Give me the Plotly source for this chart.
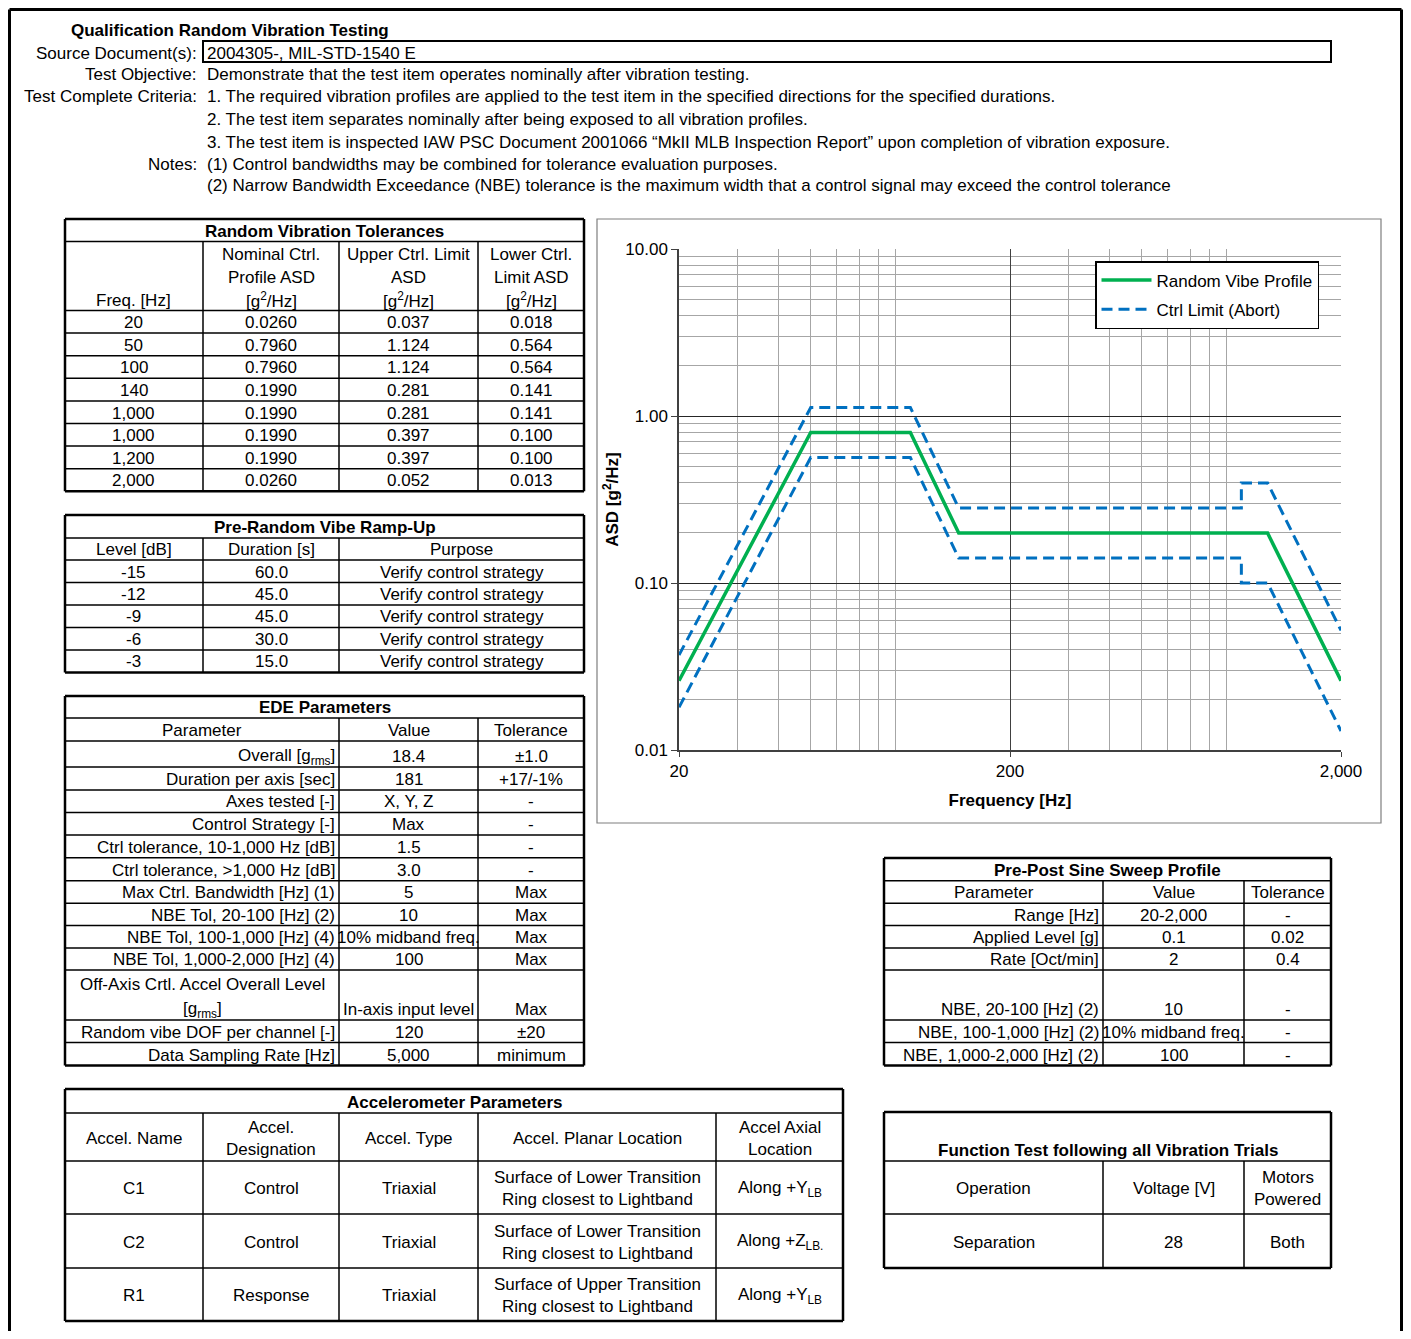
import numpy as np
import plotly.graph_objects as go

OFF = 8  # the page body adds an 8px margin around the figure
W, H = 1411 - 2 * OFF, 1339 - 2 * OFF
FONT = 'Liberation Sans, Arial, sans-serif'
FS = 17.0

# ---- data ----
rv_freq = [20, 50, 100, 140, 1000, 1000, 1200, 2000]
rv_nominal = [0.0260, 0.7960, 0.7960, 0.1990, 0.1990, 0.1990, 0.1990, 0.0260]
rv_upper = [0.037, 1.124, 1.124, 0.281, 0.281, 0.397, 0.397, 0.052]
rv_lower = [0.018, 0.564, 0.564, 0.141, 0.141, 0.100, 0.100, 0.013]

ramp_level = [-15, -12, -9, -6, -3]
ramp_duration = [60.0, 45.0, 45.0, 30.0, 15.0]
ramp_purpose = ['Verify control strategy'] * 5

ede_param = ['Overall [g<sub>rms</sub>]', 'Duration per axis [sec]', 'Axes tested [-]',
             'Control Strategy [-]', 'Ctrl tolerance, 10-1,000 Hz [dB]',
             'Ctrl tolerance, >1,000 Hz [dB]', 'Max Ctrl. Bandwidth [Hz] (1)',
             'NBE Tol, 20-100 [Hz] (2)', 'NBE Tol, 100-1,000 [Hz] (4)',
             'NBE Tol, 1,000-2,000 [Hz] (4)',
             'Off-Axis Crtl. Accel Overall Level<br>[g<sub>rms</sub>]',
             'Random vibe DOF per channel [-]', 'Data Sampling Rate [Hz]']
ede_value = ['18.4', '181', 'X, Y, Z', 'Max', '1.5', '3.0', '5', '10',
             '10% midband freq.', '100', 'In-axis input level', '120', '5,000']
ede_tol = ['±1.0', '+17/-1%', '-', '-', '-', '-', 'Max', 'Max', 'Max', 'Max',
           'Max', '±20', 'minimum']

sine_param = ['Range [Hz]', 'Applied Level [g]', 'Rate [Oct/min]', 'NBE, 20-100 [Hz] (2)',
              'NBE, 100-1,000 [Hz] (2)', 'NBE, 1,000-2,000 [Hz] (2)']
sine_value = ['20-2,000', '0.1', '2', '10', '10% midband freq.', '100']
sine_tol = ['-', '0.02', '0.4', '-', '-', '-']

accel_name = ['C1', 'C2', 'R1']
accel_desig = ['Control', 'Control', 'Response']
accel_type = ['Triaxial', 'Triaxial', 'Triaxial']
accel_planar = ['Surface of Lower Transition<br>Ring closest to Lightband',
                'Surface of Lower Transition<br>Ring closest to Lightband',
                'Surface of Upper Transition<br>Ring closest to Lightband']
accel_axial = ['Along +Y<sub>LB</sub>', 'Along +Z<sub>LB.</sub>', 'Along +Y<sub>LB</sub>']

func_op = ['Separation']
func_voltage = [28]
func_motors = ['Both']

hdr_labels = ['Source Document(s):', 'Test Objective:', 'Test Complete Criteria:', '', '', 'Notes:', '']
hdr_texts = ['2004305-, MIL-STD-1540 E',
             'Demonstrate that the test item operates nominally after vibration testing.',
             '1. The required vibration profiles are applied to the test item in the specified directions for the specified durations.',
             '2. The test item separates nominally after being exposed to all vibration profiles.',
             '3. The test item is inspected IAW PSC Document 2001066 \u201cMkII MLB Inspection Report\u201d upon completion of vibration exposure.',
             '(1) Control bandwidths may be combined for tolerance evaluation purposes.',
             '(2) Narrow Bandwidth Exceedance (NBE) tolerance is the maximum width that a control signal may exceed the control tolerance']

shapes = []
anns = []


def X(px):
    return (px - OFF) / W


def Y(py):
    return 1 - (py - OFF) / H


def line(x0, y0, x1, y1, w=1.5, color='black'):
    shapes.append(dict(type='line', xref='paper', yref='paper', x0=X(x0), y0=Y(y0),
                       x1=X(x1), y1=Y(y1), line=dict(color=color, width=w)))


def txt(x, y, s, align='center', bold=False):
    if bold:
        s = '<b>' + s + '</b>'
    anns.append(dict(x=X(x), y=Y(y + 1), xref='paper', yref='paper', text=s, showarrow=False,
                     xanchor=align, yanchor='middle', borderpad=0,
                     font=dict(family=FONT, size=FS, color='black')))


def cell(x0, x1, y0, y1, s, align='center', valign='bottom', bold=False, gap=23):
    parts = str(s).split('<br>')
    n = len(parts)
    if valign == 'bottom':
        ys = [y1 - 11.5 - gap * (n - 1 - i) for i in range(n)]
    else:
        mid = (y0 + y1) / 2
        ys = [mid + gap * (i - (n - 1) / 2) for i in range(n)]
    if align == 'left':
        x = x0 + 4
    elif align == 'right':
        x = x1 - 3
    else:
        x = (x0 + x1) / 2
    for p, yy in zip(parts, ys):
        txt(x, yy, p, align, bold)


def table(cols, rows, title_rows=1):
    # outer box
    line(cols[0], rows[0], cols[-1], rows[0], 2.5)
    line(cols[0], rows[-1], cols[-1], rows[-1], 2.5)
    line(cols[0], rows[0], cols[0], rows[-1], 2.5)
    line(cols[-1], rows[0], cols[-1], rows[-1], 2.5)
    for r in rows[1:-1]:
        line(cols[0], r, cols[-1], r, 1.5)
    for c in cols[1:-1]:
        line(c, rows[title_rows], c, rows[-1], 1.5)


# ---- page frame and header ----
line(9.5, 9.5, 1401.5, 9.5, 3)
line(9.5, 9.5, 9.5, 1345, 3)
line(1401.5, 9.5, 1401.5, 1345, 3)

txt(70, 29, 'Qualification Random Vibration Testing', 'left', True)
shapes.append(dict(type='rect', xref='paper', yref='paper', x0=X(203), y0=Y(62), x1=X(1331), y1=Y(41),
                   line=dict(color='black', width=2)))
for i, (lab, t) in enumerate(zip(hdr_labels, hdr_texts)):
    yy = [52, 74, 96, 118, 141, 163, 185][i]
    if lab:
        txt(198, yy, lab, 'right')
    txt(206, yy, t, 'left')

# ---- Random Vibration Tolerances ----
c1 = [65, 203, 339, 478, 584]
r1 = [219, 241.5, 310.5] + [310.5 + 22.6 * (i + 1) for i in range(len(rv_freq))]
table(c1, r1)
cell(c1[0], c1[-1], r1[0], r1[1], 'Random Vibration Tolerances', bold=True)
heads1 = ['Freq. [Hz]', 'Nominal Ctrl.<br>Profile ASD<br>[g<sup>2</sup>/Hz]',
          'Upper Ctrl. Limit<br>ASD<br>[g<sup>2</sup>/Hz]', 'Lower Ctrl.<br>Limit ASD<br>[g<sup>2</sup>/Hz]']
for j, hd in enumerate(heads1):
    cell(c1[j], c1[j + 1], r1[1], r1[2], hd)
for i in range(len(rv_freq)):
    vals = [f'{rv_freq[i]:,}', f'{rv_nominal[i]:.4f}', f'{rv_upper[i]:.3f}', f'{rv_lower[i]:.3f}']
    for j, v in enumerate(vals):
        cell(c1[j], c1[j + 1], r1[i + 2], r1[i + 3], v)

# ---- Pre-Random Vibe Ramp-Up ----
c2 = [65, 203, 339, 584]
r2 = [515, 538, 560] + [560 + 22.5 * (i + 1) for i in range(len(ramp_level))]
table(c2, r2)
cell(c2[0], c2[-1], r2[0], r2[1], 'Pre-Random Vibe Ramp-Up', bold=True)
for j, hd in enumerate(['Level [dB]', 'Duration [s]', 'Purpose']):
    cell(c2[j], c2[j + 1], r2[1], r2[2], hd)
for i in range(len(ramp_level)):
    vals = [str(ramp_level[i]), f'{ramp_duration[i]:.1f}', ramp_purpose[i]]
    for j, v in enumerate(vals):
        cell(c2[j], c2[j + 1], r2[i + 2], r2[i + 3], v)

# ---- EDE Parameters ----
c3 = [65, 339, 478, 584]
r3 = [696, 718, 741, 767, 790, 812.5, 835, 857.7, 880.7, 903.3, 925.5, 948, 970, 1020, 1042.5, 1065.5]
table(c3, r3)
cell(c3[0], c3[-1], r3[0], r3[1], 'EDE Parameters', bold=True)
for j, hd in enumerate(['Parameter', 'Value', 'Tolerance']):
    cell(c3[j], c3[j + 1], r3[1], r3[2], hd)
for i in range(len(ede_param)):
    p = ede_param[i]
    cell(c3[0], c3[1], r3[i + 2], r3[i + 3], p, 'center' if '<br>' in p else 'right', gap=25)
    cell(c3[1], c3[2], r3[i + 2], r3[i + 3], ede_value[i])
    cell(c3[2], c3[3], r3[i + 2], r3[i + 3], ede_tol[i])

# ---- Pre-Post Sine Sweep Profile ----
c4 = [884, 1103, 1244, 1331]
r4 = [858, 880.7, 903.3, 925.5, 948, 970, 1020, 1042.5, 1065.5]
table(c4, r4)
cell(c4[0], c4[-1], r4[0], r4[1], 'Pre-Post Sine Sweep Profile', bold=True)
for j, hd in enumerate(['Parameter', 'Value', 'Tolerance']):
    cell(c4[j], c4[j + 1], r4[1], r4[2], hd)
for i in range(len(sine_param)):
    cell(c4[0], c4[1], r4[i + 2], r4[i + 3], sine_param[i], 'right')
    cell(c4[1], c4[2], r4[i + 2], r4[i + 3], sine_value[i])
    cell(c4[2], c4[3], r4[i + 2], r4[i + 3], sine_tol[i])

# ---- Accelerometer Parameters ----
c5 = [65, 203, 339, 478, 716, 843]
r5 = [1089, 1113, 1161, 1214, 1268, 1321]
table(c5, r5)
cell(c5[0], c5[-1], r5[0], r5[1], 'Accelerometer Parameters', bold=True)
heads5 = ['Accel. Name', 'Accel.<br>Designation', 'Accel. Type', 'Accel. Planar Location', 'Accel Axial<br>Location']
for j, hd in enumerate(heads5):
    cell(c5[j], c5[j + 1], r5[1], r5[2], hd, valign='center', gap=22)
for i in range(len(accel_name)):
    vals = [accel_name[i], accel_desig[i], accel_type[i], accel_planar[i], accel_axial[i]]
    for j, v in enumerate(vals):
        cell(c5[j], c5[j + 1], r5[i + 2], r5[i + 3], v, valign='center', gap=22)

# ---- Function Test ----
c6 = [884, 1103, 1244, 1331]
r6 = [1112, 1161, 1214, 1268]
table(c6, r6)
cell(c6[0], c6[-1], r6[0], r6[1], 'Function Test following all Vibration Trials', bold=True)
for j, hd in enumerate(['Operation', 'Voltage [V]', 'Motors<br>Powered']):
    cell(c6[j], c6[j + 1], r6[1], r6[2], hd, valign='center', gap=22)
for i in range(len(func_op)):
    for j, v in enumerate([func_op[i], func_voltage[i], func_motors[i]]):
        cell(c6[j], c6[j + 1], r6[i + 2], r6[i + 3], v, valign='center')

# ---- chart frame ----
shapes.append(dict(type='rect', xref='paper', yref='paper', x0=X(597), y0=Y(823), x1=X(1381), y1=Y(219),
                   line=dict(color='#7F7F7F', width=1.2), layer='below'))

fig = go.Figure()
fig.add_trace(go.Scatter(x=rv_freq, y=rv_nominal, mode='lines', name='Random Vibe Profile',
                         line=dict(color='#00B050', width=3.5), legendgroup='a'))
fig.add_trace(go.Scatter(x=rv_freq + [None] + rv_freq, y=rv_upper + [None] + rv_lower, mode='lines',
                         name='Ctrl Limit (Abort)', connectgaps=False,
                         line=dict(color='#0070C0', width=3, dash='11px,6px'), legendgroup='b'))

minor_x = [m * 10 ** e for e in (1, 2, 3) for m in range(2, 10)
           if 20 < m * 10 ** e < 2000 and m * 10 ** e != 200]
minor_y = [m * 10.0 ** e for e in (-2, -1, 0) for m in range(2, 10)]
tfont = dict(family=FONT, size=FS, color='black')

fig.update_layout(
    width=W, height=H,
    margin=dict(l=0, r=0, t=0, b=0, autoexpand=False),
    paper_bgcolor='white', plot_bgcolor='white',
    shapes=shapes, annotations=anns,
    showlegend=True,
    legend=dict(x=X(1095), y=Y(261), xanchor='left', yanchor='top', bgcolor='white',
                bordercolor='black', borderwidth=1.5, font=tfont, itemwidth=50,
                tracegroupgap=4, traceorder='grouped'),
    xaxis=dict(type='log', range=[np.log10(20), np.log10(2000)], domain=[X(679), X(1341)],
               automargin=False,
               tickvals=[20, 200, 2000], ticktext=['20', '200', '2,000'], ticks='outside',
               ticklen=5, tickcolor='#404040', showgrid=True, gridcolor='#404040', gridwidth=1,
               minor=dict(tickvals=minor_x, showgrid=True, gridcolor='#A6A6A6', gridwidth=1, ticks=''),
               showline=True, linecolor='#404040', linewidth=1.5, tickfont=tfont,
               title=dict(text='<b>Frequency [Hz]</b>', standoff=14, font=tfont)),
    yaxis=dict(type='log', range=[-2, 1], domain=[Y(750), Y(249)],
               automargin=False,
               tickvals=[0.01, 0.1, 1, 10], ticktext=['0.01', '0.10', '1.00', '10.00'], ticks='outside',
               ticklen=6, tickcolor='#404040', showgrid=True, gridcolor='#262626', gridwidth=1.2,
               minor=dict(tickvals=minor_y, showgrid=True, gridcolor='#A6A6A6', gridwidth=1, ticks=''),
               showline=True, linecolor='#404040', linewidth=1.5, tickfont=tfont,
               title=dict(text='<b>ASD [g<sup>2</sup>/Hz]</b>', standoff=2, font=tfont)),
)

fig.write_html("out.html")
